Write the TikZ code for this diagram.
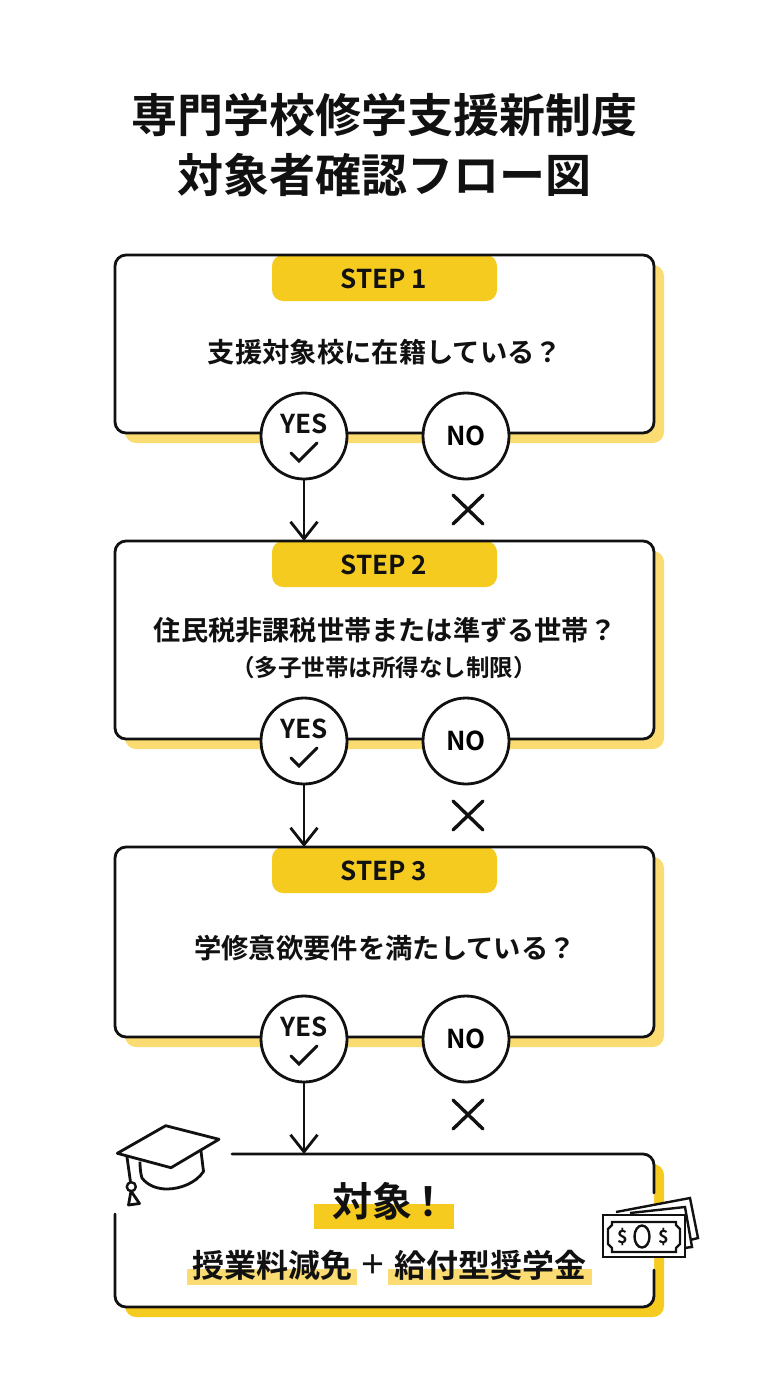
\documentclass[tikz,border=0pt]{standalone}
\usepackage{fontspec}
\setmainfont{Noto Sans CJK JP}[BoldFont={Noto Sans CJK JP Bold}]
\usetikzlibrary{arrows.meta,calc}
\definecolor{ink}{HTML}{111111}
\definecolor{gold}{HTML}{F6CB1F}
\definecolor{paleGold}{HTML}{FBDC72}
\newcommand{\fs}[1]{\fontsize{#1}{#1}\selectfont\bfseries}
\tikzset{
  boxline/.style={draw=ink,line width=2.8pt,rounded corners=11pt,outer sep=0pt},
  shadowbox/.style={fill=paleGold,rounded corners=11pt},
  txt/.style={inner sep=0pt,text=ink,anchor=center,align=center},
  answer/.style={circle,draw=ink,line width=2.8pt,fill=white,minimum size=86pt,inner sep=0pt,outer sep=0pt},
  strokemark/.style={draw=ink,line width=3.4pt,line cap=round,line join=miter},
  flow/.style={draw=ink,line width=2.8pt,-{Straight Barb[length=17pt,width=27pt,line width=2.8pt]}},
  icon/.style={draw=ink,line width=2.8pt,line join=round},
}
\newcommand{\stepcard}[4]{% name, top, bottom, label
  \fill[shadowbox] (125,#2+10) rectangle (664,#3+10);
  \fill[white,rounded corners=11pt] (115,#2) rectangle (654,#3);
  \fill[gold,rounded corners=11pt] (272,#2) -- (272,#2+46) -- (497,#2+46) -- (497,#2) -- cycle;
  \node[boxline,minimum width=539pt,minimum height={#3-#2},inner sep=0pt,anchor=north west] (#1) at (115,#2) {};
  \node[txt,font=\fs{26}] (#1t) at (384,#2+24) {STEP #4};
}
\newcommand{\answers}[3]{% name, circle centre y, cross centre y
  \node[answer] (#1y) at (304,#2) {};
  \node[answer] (#1n) at (466,#2) {\fs{26}NO};
  \node[txt,font=\fs{26}] (#1yt) at (304,#2-12) {YES};
  \draw[strokemark,line width=2.9pt] (291,#2+17) -- (299,#2+25) -- (317,#2+7);
  \draw[strokemark] (453,#3-14) -- (483,#3+15) (483,#3-14) -- (453,#3+15);
}
\begin{document}
\begin{tikzpicture}[x=1pt,y=-1pt]
\useasboundingbox (0,0) rectangle (768,1376);
\fill[white] (0,0) rectangle (768,1376);

\node[txt,font=\fs{46}] (title1) at (384,115) {専門学校修学支援新制度};
\node[txt,font=\fs{46}] (title2) at (384,175) {対象者確認フロー図};

\stepcard{a}{255}{433}{1}
\stepcard{b}{541}{739}{2}
\stepcard{c}{847}{1037}{3}

\node[txt,font=\fs{27.3}] (qa) at (385,352) {支援対象校に在籍している？};
\node[txt,font=\fs{27.2}] (qb) at (385,630) {住民税非課税世帯または準ずる世帯？};
\node[txt,font=\fs{23.5}] (qbs) at (384,668) {（多子世帯は所得なし制限）};
\node[txt,font=\fs{27.3}] (qc) at (385,948) {学修意欲要件を満たしている？};

\answers{a}{436}{509}
\answers{b}{741}{815}
\answers{c}{1039}{1114}

% result card
\fill[gold,rounded corners=11pt] (125,1164) rectangle (664,1317);
\fill[white,rounded corners=11pt] (115,1154) rectangle (654,1307);
\draw[draw=ink,line width=2.8pt,rounded corners=11pt,line cap=round]
  (654,1193) -- (654,1154) -- (232,1154);
\draw[draw=ink,line width=2.8pt,rounded corners=11pt,line cap=round]
  (115,1214) -- (115,1307) -- (654,1307) -- (654,1270);
\coordinate (dtop) at (304,1154);

\draw[flow] (ay.south) -- (b.north -| ay);
\draw[flow] (by.south) -- (c.north -| by);
\draw[flow] (cy.south) -- (dtop);

\fill[gold] (314,1204) rectangle (454,1229);
\fill[paleGold] (187,1269) rectangle (357,1285);
\fill[paleGold] (388,1269) rectangle (592,1285);
\node[txt,font=\fs{40}] (res) at (390,1201) {対象\kern-4pt！};
\node[txt,font=\fs{32}] (r1) at (272,1265) {授業料減免};
\node[txt,font=\fs{27}] (rp) at (373,1265) {＋};
\node[txt,font=\fs{32}] (r2) at (490,1265) {給付型奨学金};

% graduation cap
\draw[icon] (140,1161.5) .. controls (140,1170) and (141,1175) .. (142,1178)
  .. controls (148,1186) and (158,1189) .. (167,1189)
  .. controls (180,1189) and (196,1183) .. (203.5,1171.5) -- (201,1151);
\draw[icon,fill=white] (165.7,1125.7) -- (219,1139.3) -- (171,1167.7) -- (117.3,1153.3) -- cycle;
\draw[icon] (127,1157) -- (130.5,1182);
\draw[icon,line width=2.4pt] (131.3,1186.7) circle (4.5);
\draw[icon] (131,1191) -- (139.5,1203.5) -- (128.5,1205) -- cycle;

% banknotes
\draw[icon,fill=white,line width=2.4pt,line join=miter] (616,1212) -- (690,1198) -- (698,1238) -- (686,1241);
\draw[icon,fill=white,line width=2.4pt,line join=miter] (630,1213) -- (685,1207) -- (692,1247) -- (684,1248);
\draw[icon,fill=white,line width=2.8pt,line join=miter] (603,1215) rectangle (685,1257);
\draw[icon,line width=2.4pt,line join=miter] (612,1222) -- (676,1222) -- (676,1225) -- (680,1229) -- (680,1244) -- (676,1248) -- (676,1252) -- (612,1252) -- (612,1248) -- (608,1244) -- (608,1229) -- (612,1225) -- cycle;
\draw[icon,line width=2.4pt] (642,1236.5) ellipse (7.5 and 11);
\node[txt,font=\fs{18}] (d1) at (623,1236.5) {\$};
\node[txt,font=\fs{18}] (d2) at (664,1236.5) {\$};
\end{tikzpicture}
\end{document}
